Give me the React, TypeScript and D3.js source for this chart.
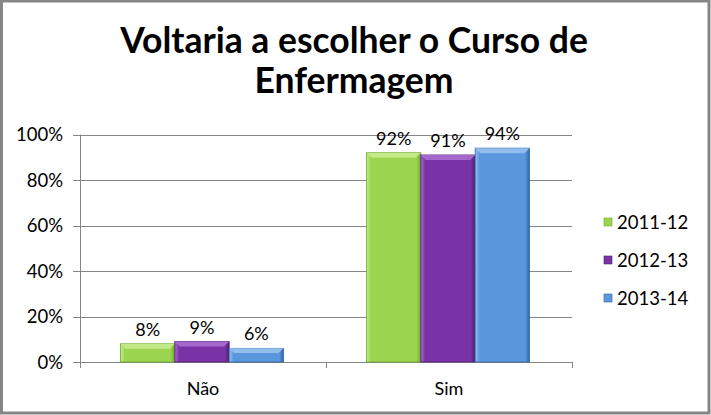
import React from "react";
import * as d3 from "d3";

const categories = ["Não", "Sim"];
const seriesNames = ["2011-12", "2012-13", "2013-14"];
const values2011 = [0.08, 0.92];
const values2012 = [0.09, 0.91];
const values2013 = [0.06, 0.94];
const yTicks = [0, 0.2, 0.4, 0.6, 0.8, 1.0];
const titleLines = ["Voltaria a escolher o Curso de", "Enfermagem"];

const seriesValues = [values2011, values2012, values2013];
const colors = ["#9BD54F", "#7A33A6", "#5A97DC"];
const light = ["#C6EC8E", "#A96ED0", "#98C2F0"];
const dark = ["#6FA52F", "#4E1E72", "#2F67A8"];

export default function App() {
  const W = 711, H = 415;
  const left = 80, right = 572, top = 134.5, bottom = 362;
  const x0 = d3.scaleBand().domain(categories).range([left, right]).paddingInner(0).paddingOuter(0);
  const x1 = d3.scaleBand().domain(seriesNames).range([0, 163]);
  const y = d3.scaleLinear().domain([0, 1]).range([bottom, top]);
  const fmt = d3.format(".0%");
  const font = "Lato, Carlito, 'Open Sans', sans-serif";

  return (
    <svg width={W} height={H} style={{ position: "absolute", left: 0, top: 0 }}>
      <defs>
        {colors.map((c, i) => (
          <linearGradient key={i} id={`g${i}`} x1="0" x2="1" y1="0" y2="0">
            <stop offset="0" stopColor={light[i]} />
            <stop offset="0.08" stopColor={c} />
            <stop offset="0.92" stopColor={c} />
            <stop offset="1" stopColor={dark[i]} />
          </linearGradient>
        ))}
      </defs>
      <rect x={0} y={0} width={W} height={H} fill="#fff" />
      <rect x={1.5} y={1} width={W - 3.5} height={H - 3} fill="none" stroke="#868686" strokeWidth={3} />
      {titleLines.map((t, i) => (
        <text key={i} x={354} y={53 + i * 40} textAnchor="middle" fontFamily={font} fontWeight="bold" fontSize={35.5} fill="#000">
          {t}
        </text>
      ))}
      {yTicks.map((t) => (
        <g key={t}>
          <line x1={73} x2={right} y1={Math.round(y(t)) + 0.5} y2={Math.round(y(t)) + 0.5} stroke="#868686" />
          <text x={63} y={y(t) + 6.5} textAnchor="end" fontFamily={font} fontSize={18.5} fill="#000">
            {fmt(t)}
          </text>
        </g>
      ))}
      <line x1={left + 0.5} x2={left + 0.5} y1={top} y2={bottom + 6} stroke="#868686" />
      {[...categories.map((c) => x0(c)!), right].map((xx, i) => (
        <line key={i} x1={xx + 0.5} x2={xx + 0.5} y1={bottom} y2={bottom + 6} stroke="#868686" />
      ))}
      {categories.map((c, ci) => {
        const gx = x0(c)! + (x0.bandwidth() - 163) / 2 - 1;
        return (
          <g key={c}>
            {seriesNames.map((s, si) => {
              const v = seriesValues[si][ci];
              const bx = gx + x1(s)!;
              const bw = x1.bandwidth();
              const by = y(v);
              const bh = bottom - by;
              const bev = Math.min(5, bh / 3);
              return (
                <g key={s}>
                  <rect x={bx} y={by} width={bw} height={bh} fill={`url(#g${si})`} stroke={dark[si]} strokeWidth={0.8} />
                  <polygon
                    points={`${bx},${by} ${bx + bw},${by} ${bx + bw - 5},${by + bev} ${bx + 5},${by + bev}`}
                    fill={light[si]}
                    opacity={0.9}
                  />
                  <text x={bx + bw / 2} y={by - 8} textAnchor="middle" fontFamily={font} fontSize={18} fill="#000">
                    {fmt(v)}
                  </text>
                </g>
              );
            })}
            <text x={x0(c)! + x0.bandwidth() / 2} y={395} textAnchor="middle" fontFamily={font} fontSize={18} fill="#000">
              {c}
            </text>
          </g>
        );
      })}
      {seriesNames.map((s, i) => (
        <g key={s}>
          <rect x={604} y={218 + i * 38} width={8} height={8} fill={colors[i]} stroke={dark[i]} strokeWidth={0.6} />
          <text x={617} y={228.5 + i * 38} fontFamily={font} fontSize={18.5} fill="#000">
            {s}
          </text>
        </g>
      ))}
    </svg>
  );
}
